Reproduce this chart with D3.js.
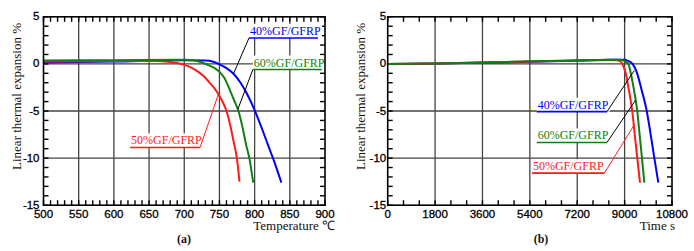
<!DOCTYPE html>
<html>
<head>
<meta charset="utf-8">
<script src="https://cdn.jsdelivr.net/npm/d3@7"></script>
<style>
body { margin: 0; background: #fff; }
svg { display: block; }
</style>
</head>
<body>
<svg id="chart" width="694" height="251"></svg>
<script>
// tick labels
var tempTicks = [500, 550, 600, 650, 700, 750, 800, 850, 900];
var timeTicks = [0, 1800, 3600, 5400, 7200, 9000, 10800];
var expTicks = [5, 0, -5, -10, -15];

// (a) expansion % vs temperature
var a_gf40 = [[500,0.15],[600,0.25],[700,0.4],[730,0.35],[740,0.25],[750,-0.05],[760,-0.45],[770,-1.05],[780,-2.0],[790,-3.3],[800,-4.9],[810,-6.8],[820,-8.8],[828,-10.4],[838,-12.6]];
var a_gf50 = [[500,0.25],[600,0.3],[660,0.3],[680,0.2],[690,0.1],[698,-0.05],[710,-0.4],[720,-0.85],[727,-1.25],[735,-1.9],[743,-2.6],[750,-3.4],[755,-4.1],[760,-5.0],[765,-6.4],[770,-8.2],[775,-10.1],[778.5,-12.5]];
var a_gf60 = [[500,0.35],[600,0.4],[700,0.45],[715,0.35],[725,0.15],[735,-0.15],[742,-0.4],[750,-0.85],[757,-1.5],[765,-2.8],[771,-3.9],[777,-5.0],[783,-6.8],[788,-8.6],[792.5,-10.0],[798,-12.6]];

// (b) expansion % vs time
var b_gf40 = [[0,0],[1800,0.03],[3600,0.12],[5400,0.22],[7200,0.35],[8400,0.45],[9000,0.45],[9150,0.3],[9300,0],[9450,-0.8],[9650,-2.8],[9840,-5.0],[9990,-7.5],[10130,-10.0],[10280,-12.6]];
var b_gf50 = [[0,0],[1800,0.05],[3600,0.15],[5400,0.25],[7200,0.35],[8400,0.42],[8700,0.4],[8850,0.25],[8950,-0.2],[9050,-1.1],[9150,-2.6],[9290,-5.0],[9385,-7.5],[9480,-10.0],[9585,-12.6]];
var b_gf60 = [[0,0],[1800,0.05],[3600,0.15],[5400,0.27],[7200,0.37],[8400,0.44],[8850,0.45],[9000,0.3],[9140,0],[9250,-1.2],[9370,-3.0],[9480,-5.0],[9570,-7.5],[9660,-10.0],[9748,-12.6]];

var BLUE = "#0000ff", RED = "#ff1a1a", GREEN = "#108010";

var svg = d3.select("#chart");
svg.append("rect").attr("width", 694).attr("height", 251).attr("fill", "#fff");

var plotTop = 16.8, plotBottom = 205.2;

function drawPanel(cfg) {
	var x = d3.scaleLinear().domain(cfg.domain).range([cfg.left, cfg.right]);
	var y = d3.scaleLinear().domain([-15, 5]).range([plotBottom, plotTop]);
	var g = svg.append("g");

	// grid
	g.selectAll(".gx").data(cfg.ticks.slice(1, -1)).enter().append("line")
		.attr("x1", x).attr("x2", x).attr("y1", plotTop).attr("y2", plotBottom)
		.attr("stroke", "#444").attr("stroke-width", 1.3);
	g.selectAll(".gy").data(expTicks.slice(1, -1)).enter().append("line")
		.attr("y1", y).attr("y2", y).attr("x1", cfg.left).attr("x2", cfg.right)
		.attr("stroke", "#444").attr("stroke-width", 1.3);

	// minor ticks, pointing inside on all four sides
	var xm = d3.range(cfg.domain[0], cfg.domain[1] + 1, cfg.minor);
	var ym = d3.range(-15, 6, 1);
	var tl = 5;
	xm.forEach(function(v) {
		g.append("line").attr("x1", x(v)).attr("x2", x(v)).attr("y1", plotBottom).attr("y2", plotBottom - tl)
			.attr("stroke", "#000").attr("stroke-width", 1.4);
		g.append("line").attr("x1", x(v)).attr("x2", x(v)).attr("y1", plotTop).attr("y2", plotTop + tl)
			.attr("stroke", "#000").attr("stroke-width", 1.4);
	});
	ym.forEach(function(v) {
		g.append("line").attr("y1", y(v)).attr("y2", y(v)).attr("x1", cfg.left).attr("x2", cfg.left + tl)
			.attr("stroke", "#000").attr("stroke-width", 1.4);
		g.append("line").attr("y1", y(v)).attr("y2", y(v)).attr("x1", cfg.right).attr("x2", cfg.right - tl)
			.attr("stroke", "#000").attr("stroke-width", 1.4);
	});

	// curves
	var line = d3.line().x(function(d) { return x(d[0]); }).y(function(d) { return y(d[1]); })
		.curve(d3.curveMonotoneX);
	cfg.series.forEach(function(s) {
		g.append("path").datum(s.data).attr("d", line)
			.attr("fill", "none").attr("stroke", s.color).attr("stroke-width", 2);
	});

	// labels with underline and leader (leader leaves from the end nearest the curve)
	cfg.notes.forEach(function(n) {
		var fromX = n.side == "left" ? n.start : n.end;
		var bg = g.append("rect").attr("fill", "#fff");
		var t = g.append("text").attr("x", x(n.start) + 1).attr("y", y(n.under) - 3)
			.attr("fill", n.color).attr("font-family", "'Liberation Serif', serif").attr("font-size", 12)
			.text(n.name);
		var bb = t.node().getBBox();
		bg.attr("x", bb.x - 1).attr("y", bb.y).attr("width", bb.width + 2).attr("height", y(n.under) - bb.y);
		g.append("line").attr("x1", x(fromX)).attr("y1", y(n.under)).attr("x2", x(n.to[0])).attr("y2", y(n.to[1]))
			.attr("stroke", n.leader).attr("stroke-width", 1);
		g.append("line").attr("x1", x(n.start)).attr("x2", x(n.end)).attr("y1", y(n.under)).attr("y2", y(n.under))
			.attr("stroke", n.color).attr("stroke-width", 1.6);
	});

	// frame
	g.append("rect").attr("x", cfg.left).attr("y", plotTop).attr("width", cfg.right - cfg.left).attr("height", plotBottom - plotTop)
		.attr("fill", "none").attr("stroke", "#000").attr("stroke-width", 1.6);

	// tick labels
	var tf = "'Liberation Sans Narrow', 'Arial Narrow', 'Liberation Sans', sans-serif";
	g.selectAll(".tx").data(cfg.ticks).enter().append("text")
		.attr("x", x).attr("y", 217.5).attr("text-anchor", "middle")
		.attr("font-family", tf).attr("font-size", 11.5).attr("fill", "#000")
		.attr("stroke", "#000").attr("stroke-width", 0.3)
		.text(function(d) { return d; });
	g.selectAll(".ty").data(expTicks).enter().append("text")
		.attr("x", cfg.left - cfg.ypad).attr("y", function(d) { return y(d) + 3.5; }).attr("text-anchor", "end")
		.attr("font-family", tf).attr("font-size", 11.5).attr("fill", "#000")
		.attr("stroke", "#000").attr("stroke-width", 0.3)
		.text(function(d) { return d; });

	// titles
	g.append("text").attr("transform", "translate(" + cfg.ytx + ",96.5) rotate(-90)")
		.attr("text-anchor", "middle").attr("font-family", "'Liberation Serif', serif").attr("font-size", 13)
		.attr("fill", "#111").text("Linear thermal expansion %");
	g.append("text").attr("x", cfg.xtx).attr("y", 230).attr("text-anchor", "end")
		.attr("font-family", "'Liberation Serif', serif").attr("font-size", 13).attr("fill", "#111")
		.text(cfg.xTitle);
	g.append("text").attr("x", cfg.ltx).attr("y", 243).attr("text-anchor", "middle")
		.attr("font-family", "'Liberation Serif', serif").attr("font-size", 12).attr("font-weight", "bold")
		.attr("fill", "#111").text(cfg.letter);
}

drawPanel({
	left: 43.5, right: 325, domain: [500, 900], ticks: tempTicks, minor: 10, ypad: 4,
	series: [{data: a_gf40, color: BLUE}, {data: a_gf50, color: RED}, {data: a_gf60, color: GREEN}],
	notes: [
		{name: "40%GF/GFRP", color: BLUE, leader: "#000", side: "left", start: 792, end: 890, under: 2.75, to: [770, -1.05]},
		{name: "60%GF/GFRP", color: GREEN, leader: "#000", side: "left", start: 797.5, end: 895.5, under: -0.6, to: [776.3, -4.8]},
		{name: "50%GF/GFRP", color: RED, leader: RED, side: "right", start: 623, end: 722.5, under: -8.87, to: [748.6, -3.2]}
	],
	xTitle: "Temperature \u2103", xtx: 335, ytx: 21, ltx: 184, letter: "(a)"
});

drawPanel({
	left: 387.7, right: 672, domain: [0, 10800], ticks: timeTicks, minor: 600, ypad: 1.5,
	series: [{data: b_gf40, color: BLUE}, {data: b_gf50, color: RED}, {data: b_gf60, color: GREEN}],
	notes: [
		{name: "40%GF/GFRP", color: BLUE, leader: "#000", side: "right", start: 5660, end: 8330, under: -5.07, to: [9368, -0.7]},
		{name: "60%GF/GFRP", color: GREEN, leader: "#000", side: "right", start: 5660, end: 8330, under: -8.34, to: [9421, -3.83]},
		{name: "50%GF/GFRP", color: RED, leader: RED, side: "right", start: 5480, end: 8228, under: -11.6, to: [9368, -6.46]}
	],
	xTitle: "Time s", xtx: 675, ytx: 365, ltx: 541, letter: "(b)"
});
</script>
</body>
</html>
